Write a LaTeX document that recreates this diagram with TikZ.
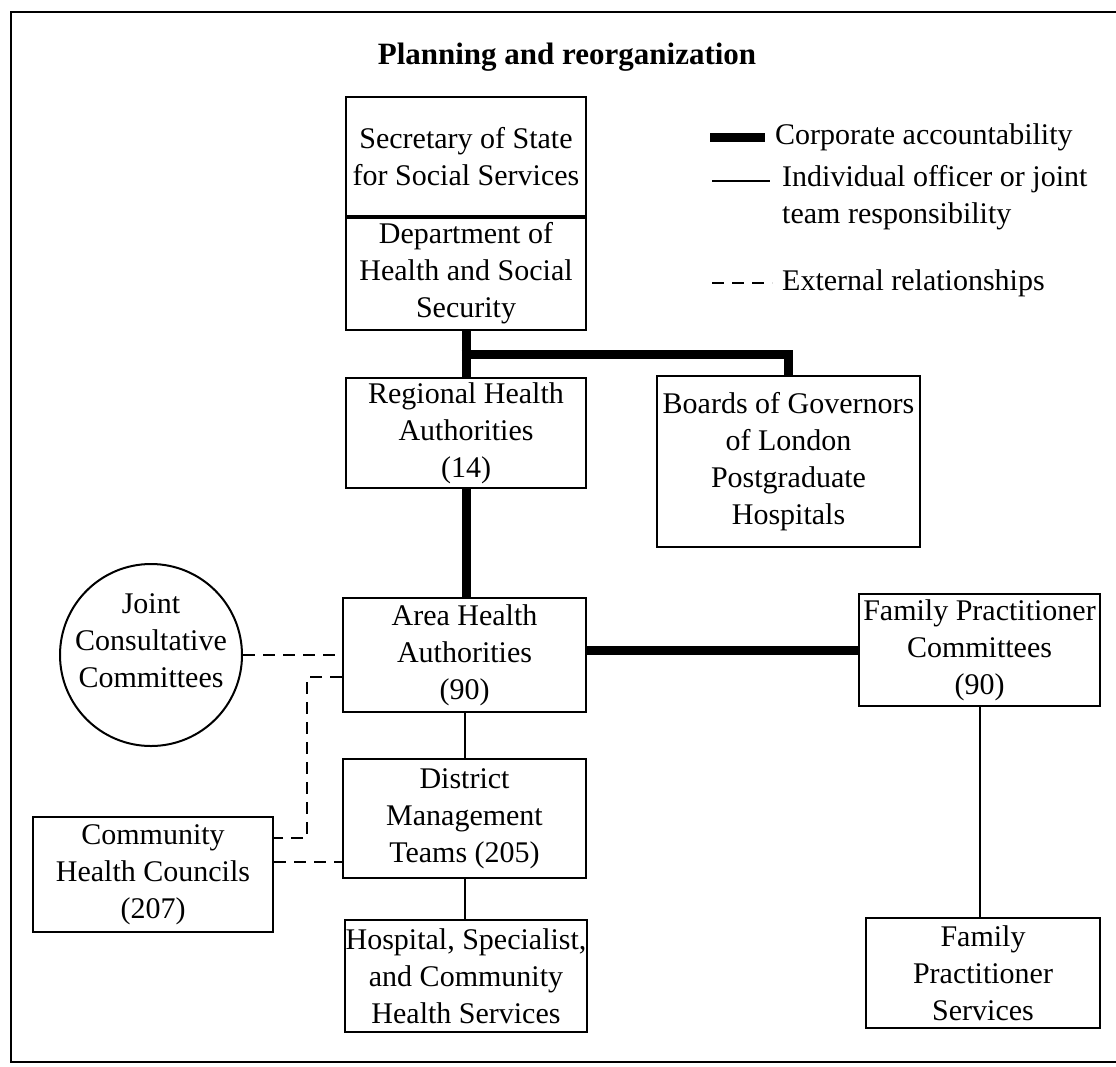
\documentclass[tikz,border=0pt]{standalone}
\usepackage{fontspec}
\setmainfont{Liberation Serif}
\usetikzlibrary{calc}
\begin{document}
\begin{tikzpicture}[x=1pt,y=-1pt,
  box/.style={draw,line width=2pt,rectangle,inner sep=0pt,align=center,
    font=\fontsize{30}{37}\selectfont},
  circ/.style={draw,line width=2pt,circle,inner sep=0pt},
  lbl/.style={align=center,inner sep=0pt,font=\fontsize{30}{37}\selectfont},
  corp/.style={line width=9pt},
  indiv/.style={line width=2pt},
  ext/.style={line width=2pt,dash pattern=on 12pt off 8pt},
  legtext/.style={anchor=west,align=left,inner sep=0pt,font=\fontsize{30}{37}\selectfont}]
\useasboundingbox (0,0) rectangle (1116,1066);
% frame
\draw[line width=2.5pt] (1116,12) -- (11,12) -- (11,1062) -- (1116,1062);
% title
\node[font=\fontsize{31}{37}\selectfont\bfseries] (title) at (567,57) {Planning and reorganization};
% boxes
\node[box,minimum width=240pt,minimum height=119pt] (sos) at (466,156.5) {Secretary of State\\for Social Services};
\node[box,minimum width=240pt,minimum height=114pt] (dhss) at (466,273) {Department of\\Health and Social\\Security};
\draw[line width=4pt] (sos.south west) -- (sos.south east);
\node[box,minimum width=240pt,minimum height=110pt] (rha) at (466,433) {Regional Health\\Authorities\\(14)};
\node[box,minimum width=263pt,minimum height=171pt] (boards) at (788.5,461.5) {Boards of Governors\\of London\\Postgraduate\\Hospitals};
\node[box,minimum width=243pt,minimum height=114pt] (aha) at (464.5,655) {Area Health\\Authorities\\(90)};
\node[box,minimum width=241pt,minimum height=112pt] (fpc) at (979.5,650) {Family Practitioner\\Committees\\(90)};
\node[circ,minimum size=182pt,label={[lbl,yshift=14pt]center:Joint\\Consultative\\Committees}] (jcc) at (151,655) {};
\node[box,minimum width=243pt,minimum height=119pt] (dmt) at (464.5,818.5) {District\\Management\\Teams (205)};
\node[box,minimum width=240pt,minimum height=115pt] (chc) at (153,874.5) {Community\\Health Councils\\(207)};
\node[box,minimum width=242pt,minimum height=112pt] (hschs) at (466,976) {Hospital, Specialist,\\and Community\\Health Services};
\node[box,minimum width=234pt,minimum height=110pt] (fps) at (983,973) {Family\\Practitioner\\Services};
% corporate accountability
\coordinate (jn) at ($(dhss.south)!0.5!(rha.north)$);
\draw[corp] (dhss.south) -- (rha.north);
\draw[corp] ([xshift=-4.5pt]jn) -| (boards.north);
\draw[corp] (rha.south) -- (rha.south |- aha.north);
\draw[corp] (aha.east |- fpc.west) -- (fpc.west);
% individual responsibility
\draw[indiv] (aha.south) -- (dmt.north);
\draw[indiv] (dmt.south) -- (dmt.south |- hschs.north);
\draw[indiv] (fpc.south) -- (fpc.south |- fps.north);
% external relationships
\draw[ext] (jcc.east) -- (jcc.east -| aha.west);
\draw[ext] ([yshift=-22pt]aha.west) -- ++(-35,0) |- ([yshift=36.5pt]chc.east);
\draw[ext] ([yshift=12.5pt]chc.east) -- ([yshift=12.5pt]chc.east -| dmt.west);
% legend
\draw[corp] (710,137) -- (765,137);
\node[legtext] (l1) at (775,137) {Corporate accountability};
\draw[indiv] (712,181) -- (770,181);
\node[legtext] (l2) at (782,198) {Individual officer or joint\\team responsibility};
\draw[ext] (712,283) -- (772,283);
\node[legtext] (l3) at (782,283) {External relationships};
\end{tikzpicture}
\end{document}
